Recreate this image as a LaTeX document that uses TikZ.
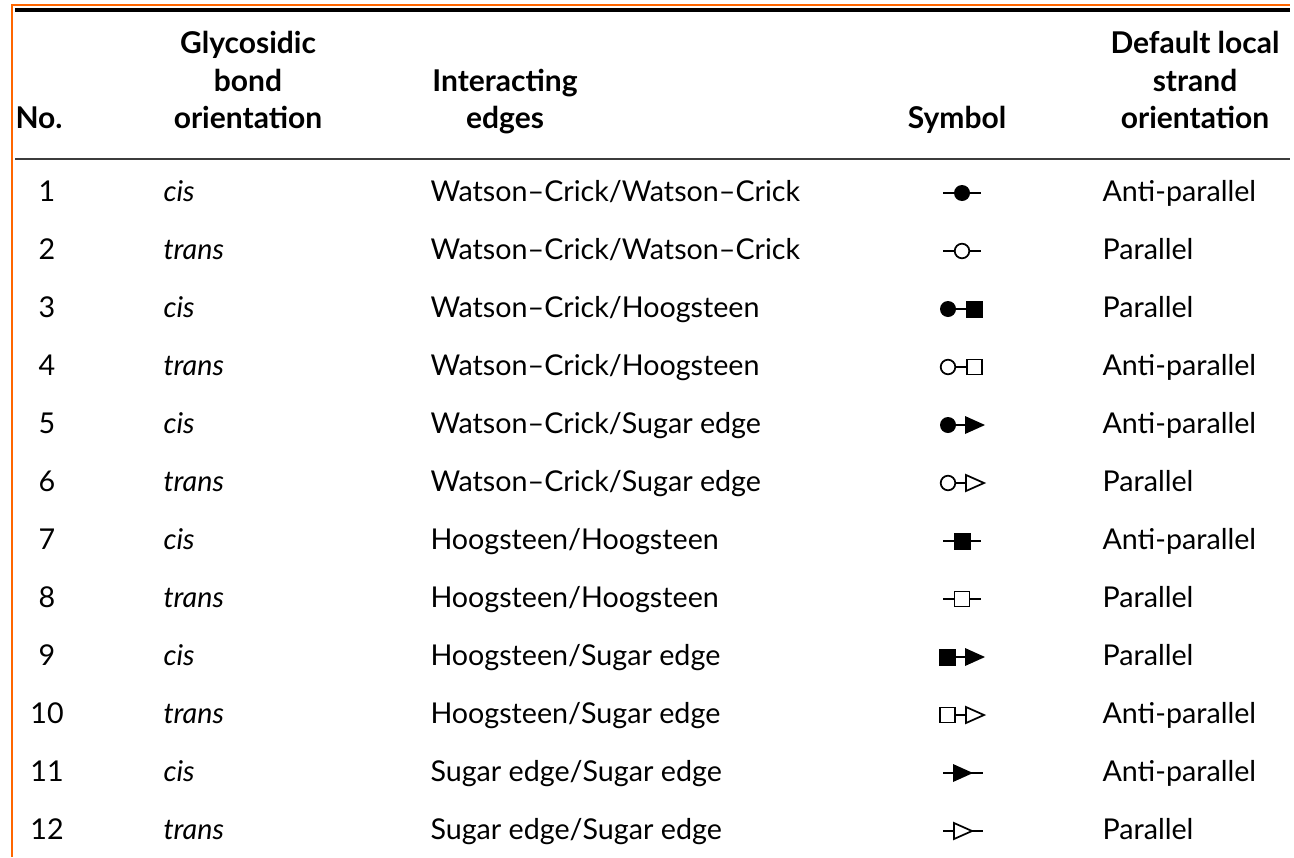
\documentclass[tikz,border=0pt]{standalone}
\usepackage{fontspec}
\setmainfont{Lato}
\definecolor{frameorange}{RGB}{255,102,0}
\tikzset{every picture/.style={line width=0.75pt}}
\tikzset{
  cell/.style={anchor=base west, inner sep=0pt, font=\fontsize{21.5}{24}\selectfont},
  numcell/.style={anchor=base, inner sep=0pt, font=\fontsize{21.5}{24}\selectfont},
  headcell/.style={anchor=base, inner sep=0pt, font=\fontsize{22.5}{25}\selectfont\bfseries},
  symline/.style={line width=2.1pt},
  openshape/.style={line width=1.3pt, fill=white},
  fullshape/.style={fill=black}
}

\begin{document}
\begin{tikzpicture}[x=0.75pt,y=0.75pt,yscale=-1,xscale=1]
\path[use as bounding box] (0,0) rectangle (1294,857);

%Frame lines
\draw [color=frameorange, line width=1.2pt] (12,857) -- (12,5) -- (1290,5) ;
\draw [line width=2.6pt] (15,10) -- (1290,10) ;
\draw [color={rgb, 255:red, 60; green, 60; blue, 60 }, line width=1.4pt] (15,159) -- (1290,159) ;

% Header
\node [headcell, anchor=base west] (hno) at (15,128) {No.};
\node [headcell] (hgly1) at (248,53) {Glycosidic};
\node [headcell] (hgly2) at (248,91) {bond};
\node [headcell] (hgly3) at (248,128) {orientation};
\node [headcell] (hedge1) at (505,91) {Interacting};
\node [headcell] (hedge2) at (505,128) {edges};
\node [headcell] (hsym) at (957,128) {Symbol};
\node [headcell] (hstr1) at (1195,53) {Default local};
\node [headcell] (hstr2) at (1195,91) {strand};
\node [headcell] (hstr3) at (1195,128) {orientation};

% Row 1
\node [numcell] (no1) at (47,201) {1};
\node [cell] (gly1) at (163,201) {\itshape cis};
\node [cell] (edge1) at (430,201) {Watson--Crick/Watson--Crick};
\node [cell] (str1) at (1102,201) {Anti-parallel};
% Row 2
\node [numcell] (no2) at (47,259) {2};
\node [cell] (gly2) at (163,259) {\itshape trans};
\node [cell] (edge2) at (430,259) {Watson--Crick/Watson--Crick};
\node [cell] (str2) at (1102,259) {Parallel};
% Row 3
\node [numcell] (no3) at (47,317) {3};
\node [cell] (gly3) at (163,317) {\itshape cis};
\node [cell] (edge3) at (430,317) {Watson--Crick/Hoogsteen};
\node [cell] (str3) at (1102,317) {Parallel};
% Row 4
\node [numcell] (no4) at (47,375) {4};
\node [cell] (gly4) at (163,375) {\itshape trans};
\node [cell] (edge4) at (430,375) {Watson--Crick/Hoogsteen};
\node [cell] (str4) at (1102,375) {Anti-parallel};
% Row 5
\node [numcell] (no5) at (47,433) {5};
\node [cell] (gly5) at (163,433) {\itshape cis};
\node [cell] (edge5) at (430,433) {Watson--Crick/Sugar edge};
\node [cell] (str5) at (1102,433) {Anti-parallel};
% Row 6
\node [numcell] (no6) at (47,491) {6};
\node [cell] (gly6) at (163,491) {\itshape trans};
\node [cell] (edge6) at (430,491) {Watson--Crick/Sugar edge};
\node [cell] (str6) at (1102,491) {Parallel};
% Row 7
\node [numcell] (no7) at (47,549) {7};
\node [cell] (gly7) at (163,549) {\itshape cis};
\node [cell] (edge7) at (430,549) {Hoogsteen/Hoogsteen};
\node [cell] (str7) at (1102,549) {Anti-parallel};
% Row 8
\node [numcell] (no8) at (47,607) {8};
\node [cell] (gly8) at (163,607) {\itshape trans};
\node [cell] (edge8) at (430,607) {Hoogsteen/Hoogsteen};
\node [cell] (str8) at (1102,607) {Parallel};
% Row 9
\node [numcell] (no9) at (47,665) {9};
\node [cell] (gly9) at (163,665) {\itshape cis};
\node [cell] (edge9) at (430,665) {Hoogsteen/Sugar edge};
\node [cell] (str9) at (1102,665) {Parallel};
% Row 10
\node [numcell] (no10) at (47,723) {10};
\node [cell] (gly10) at (163,723) {\itshape trans};
\node [cell] (edge10) at (430,723) {Hoogsteen/Sugar edge};
\node [cell] (str10) at (1102,723) {Anti-parallel};
% Row 11
\node [numcell] (no11) at (47,781) {11};
\node [cell] (gly11) at (163,781) {\itshape cis};
\node [cell] (edge11) at (430,781) {Sugar edge/Sugar edge};
\node [cell] (str11) at (1102,781) {Anti-parallel};
% Row 12
\node [numcell] (no12) at (47,839) {12};
\node [cell] (gly12) at (163,839) {\itshape trans};
\node [cell] (edge12) at (430,839) {Sugar edge/Sugar edge};
\node [cell] (str12) at (1102,839) {Parallel};

% Symbols
%cWW
\draw [symline] (943,193) -- (981,193) ;
\fill [fullshape] (962,193) circle (8) ;
%tWW
\draw [symline] (943,251) -- (981,251) ;
\draw [openshape] (962,251) circle (7.3) ;
%cWH
\draw [symline] (948,309) -- (970,309) ;
\fill [fullshape] (948,309) circle (8) ;
\fill [fullshape] (966,300.5) rectangle (983,317.5) ;
%tWH
\draw [symline] (955,367) -- (967,367) ;
\draw [openshape] (948,367) circle (7.3) ;
\draw [openshape] (967,359.5) rectangle (982,374.5) ;
%cWS
\draw [symline] (948,425) -- (966,425) ;
\fill [fullshape] (948,425) circle (8) ;
\fill [fullshape] (965,416) -- (985,425) -- (965,434) -- cycle ;
%tWS
\draw [symline] (955,483) -- (966,483) ;
\draw [openshape] (948,483) circle (7.3) ;
\draw [openshape] (966,475) -- (984,483) -- (966,491) -- cycle ;
%cHH
\draw [symline] (943,541) -- (981,541) ;
\fill [fullshape] (953.5,532.5) rectangle (970.5,549.5) ;
%tHH
\draw [symline] (943,599) -- (981,599) ;
\draw [openshape] (954.5,591.5) rectangle (969.5,606.5) ;
%cHS
\draw [symline] (948,657) -- (966,657) ;
\fill [fullshape] (939,648.5) rectangle (956,665.5) ;
\fill [fullshape] (965,648) -- (985,657) -- (965,666) -- cycle ;
%tHS
\draw [symline] (955,715) -- (966,715) ;
\draw [openshape] (940,707.5) rectangle (955,722.5) ;
\draw [openshape] (966,707) -- (984,715) -- (966,723) -- cycle ;
%cSS
\draw [symline] (943,773) -- (983,773) ;
\fill [fullshape] (953,764) -- (973,773) -- (953,782) -- cycle ;
%tSS
\draw [symline] (943,831) -- (983,831) ;
\draw [openshape] (954,823) -- (972,831) -- (954,839) -- cycle ;

\end{tikzpicture}
\end{document}
